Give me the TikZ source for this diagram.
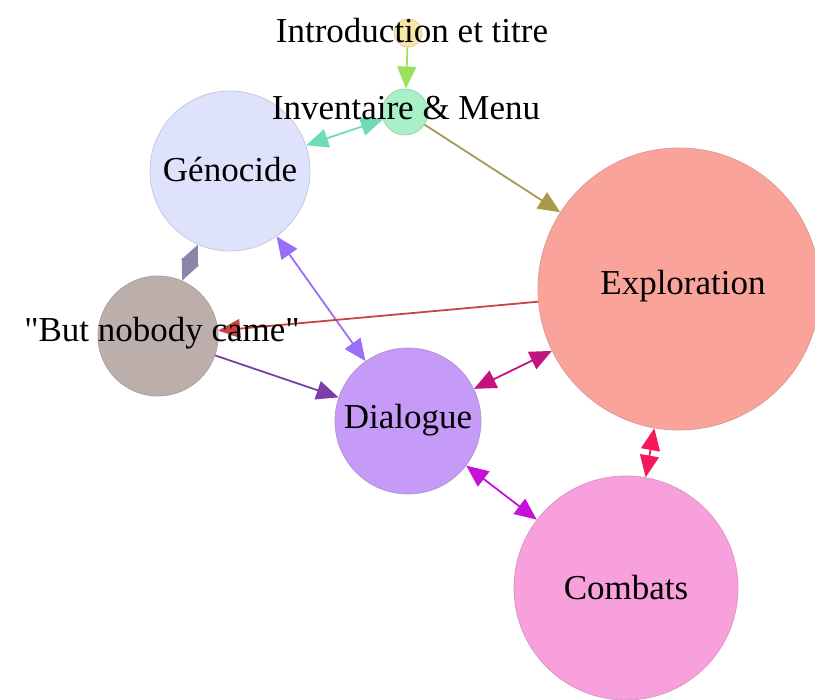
\documentclass[tikz,border=0pt]{standalone}
\usepackage{fontspec}
\setmainfont{Liberation Serif}[Ligatures=TeXOff]
\usetikzlibrary{arrows.meta}
\definecolor{cIntro}{HTML}{F8E6A8}
\definecolor{cInv}{HTML}{A8F0C6}
\definecolor{cGen}{HTML}{DEE3FB}
\definecolor{cExp}{HTML}{F9A39B}
\definecolor{cNob}{HTML}{BCAEAB}
\definecolor{cDia}{HTML}{C69AF7}
\definecolor{cCom}{HTML}{F7A0DC}
\definecolor{eIntroInv}{HTML}{98E35A}
\definecolor{eInvGen}{HTML}{6FDCB3}
\definecolor{eInvExp}{HTML}{A89A4A}
\definecolor{eGenNob}{HTML}{8A86A8}
\definecolor{eGenDia}{HTML}{9B6EF8}
\definecolor{eExpNob}{HTML}{C84444}
\definecolor{eNobDia}{HTML}{7B3FA6}
\definecolor{eExpDia}{HTML}{C2137E}
\definecolor{eExpCom}{HTML}{F41A5A}
\definecolor{eDiaCom}{HTML}{C512D6}
\begin{document}
\begin{tikzpicture}[x=1pt,y=-1pt,
  circ/.style 2 args={circle, draw=#1!75!gray, fill=#1, line width=0.8pt,
    inner sep=0pt, minimum size=#2},
  lbl/.style={font=\fontsize{35}{40}\selectfont, inner sep=0pt, text=black},
  >={Triangle[length=22pt,width=19pt]},
  shorthead/.style={-{Triangle[length=20.5pt,width=18pt]}},
  link/.style={line width=1.8pt, draw=#1}]
\useasboundingbox (0,0) rectangle (815,700);
% circles
\node[circ={cIntro}{28pt}] (intro) at (408,33) {};
\node[circ={cInv}{46pt}] (inv) at (405,112) {};
\node[circ={cGen}{160pt}] (gen) at (230,171) {};
\node[circ={cExp}{282pt}] (exp) at (679,289) {};
\node[circ={cNob}{120pt}] (nob) at (158,336) {};
\node[circ={cDia}{146pt}] (dia) at (408,421) {};
\node[circ={cCom}{224pt}] (com) at (626,588) {};
\coordinate (gnmid) at (190,262.5);
% connectors
\draw[link=eIntroInv, ->] (intro) -- (inv);
\draw[link=eInvGen, <->] (inv) -- (gen);
\draw[link=eInvExp, ->] (inv) -- (exp);
\draw[link=eGenNob, shorthead] (gnmid) -- (gen);
\draw[link=eGenNob, shorthead] (gnmid) -- (nob);
\draw[link=eGenDia, <->] (gen) -- (dia);
\draw[link=eExpNob, ->] (exp) -- (nob);
\draw[link=eNobDia, ->] (nob) -- (dia);
\draw[link=eExpDia, <->] (exp) -- (dia);
\draw[link=eExpCom, <->] (exp) -- (com);
\draw[link=eDiaCom, <->] (dia) -- (com);
% labels
\node[lbl] (tIntro) at (412,31) {Introduction et titre};
\node[lbl] (tInv) at (406,108) {Inventaire \& Menu};
\node[lbl] (tGen) at (230,170) {Génocide};
\node[lbl] (tExp) at (683,286) {Exploration};
\node[lbl] (tNob) at (162,333) {"But nobody came"};
\node[lbl] (tDia) at (408,420) {Dialogue};
\node[lbl] (tCom) at (626,588) {Combats};
\end{tikzpicture}
\end{document}
